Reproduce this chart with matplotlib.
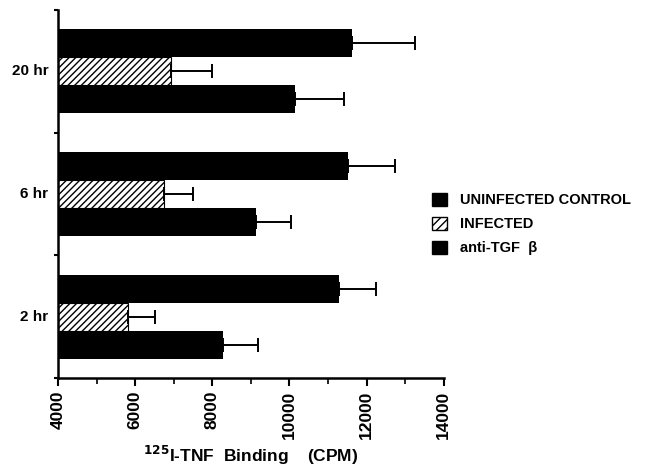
import numpy as np
import matplotlib.pyplot as plt
from matplotlib.patches import Patch

plt.rcParams['font.family'] = ['Liberation Sans', 'DejaVu Sans']
plt.rcParams['font.weight'] = 'bold'
plt.rcParams['mathtext.default'] = 'bf'

# data (CPM)
times = ['2 hr', '6 hr', '20 hr']
uninfected = [11280, 11510, 11620]
uninfected_err = [960, 1220, 1630]
infected = [5810, 6750, 6930]
infected_err = [700, 750, 1060]
anti_tgf = [8270, 9130, 10140]
anti_tgf_err = [910, 910, 1270]

fig = plt.figure(figsize=(6.45, 4.73), dpi=100)
ax = fig.add_axes([0.09, 0.201, 0.598, 0.778])

y = np.arange(len(times)) + 0.5
h = 0.228
base = 4000

def hbars(vals, errs, offset, **kw):
    vals = np.array(vals)
    ax.barh(y + offset, vals - base, height=h, left=base, **kw)
    ax.errorbar(vals, y + offset, xerr=[np.zeros(len(vals)), errs], fmt='none',
                ecolor='black', elinewidth=1.4, capsize=5, capthick=1.4)

hbars(uninfected, uninfected_err, h, color='black')
hbars(infected, infected_err, 0, facecolor='white', edgecolor='black',
      hatch='/////', linewidth=0.8)
hbars(anti_tgf, anti_tgf_err, -h, color='black')

ax.set_xlim(4000, 14000)
ax.set_ylim(0, 3)
ax.set_xticks(np.arange(4000, 14001, 2000))
ax.set_xticks(np.arange(4000, 14001, 1000), minor=True)
ax.set_xticklabels([str(v) for v in range(4000, 14001, 2000)],
                   rotation=90, fontsize=12.5, fontweight='bold')
ax.set_yticks([0, 1, 2, 3])
ax.set_yticklabels([])
for yi, t in zip(y, times):
    ax.text(-0.025, yi, t, transform=ax.get_yaxis_transform(), ha='right',
            va='center', fontsize=11, fontweight='bold')

for s in ['top', 'right']:
    ax.spines[s].set_visible(False)
for s in ['left', 'bottom']:
    ax.spines[s].set_linewidth(1.8)
ax.tick_params(axis='x', which='major', length=6, width=1.5, pad=3)
ax.tick_params(axis='x', which='minor', length=4, width=1.2)
ax.tick_params(axis='y', length=3, width=1.5)

ax.set_xlabel('$^{125}$I-TNF  Binding    (CPM)', fontsize=12.5,
              fontweight='bold', labelpad=4)

handles = [Patch(facecolor='black', edgecolor='black'),
           Patch(facecolor='white', edgecolor='black', hatch='////'),
           Patch(facecolor='black', edgecolor='black')]
labels = ['UNINFECTED CONTROL', 'INFECTED', 'anti-TGF  \u03b2']
fig.legend(handles, labels, loc='center left', bbox_to_anchor=(0.650, 0.526),
           frameon=False, handlelength=1.0, handleheight=1.0,
           handletextpad=0.9, labelspacing=0.65,
           prop={'weight': 'bold', 'size': 10.5})

fig.savefig('out.png', dpi=100)
